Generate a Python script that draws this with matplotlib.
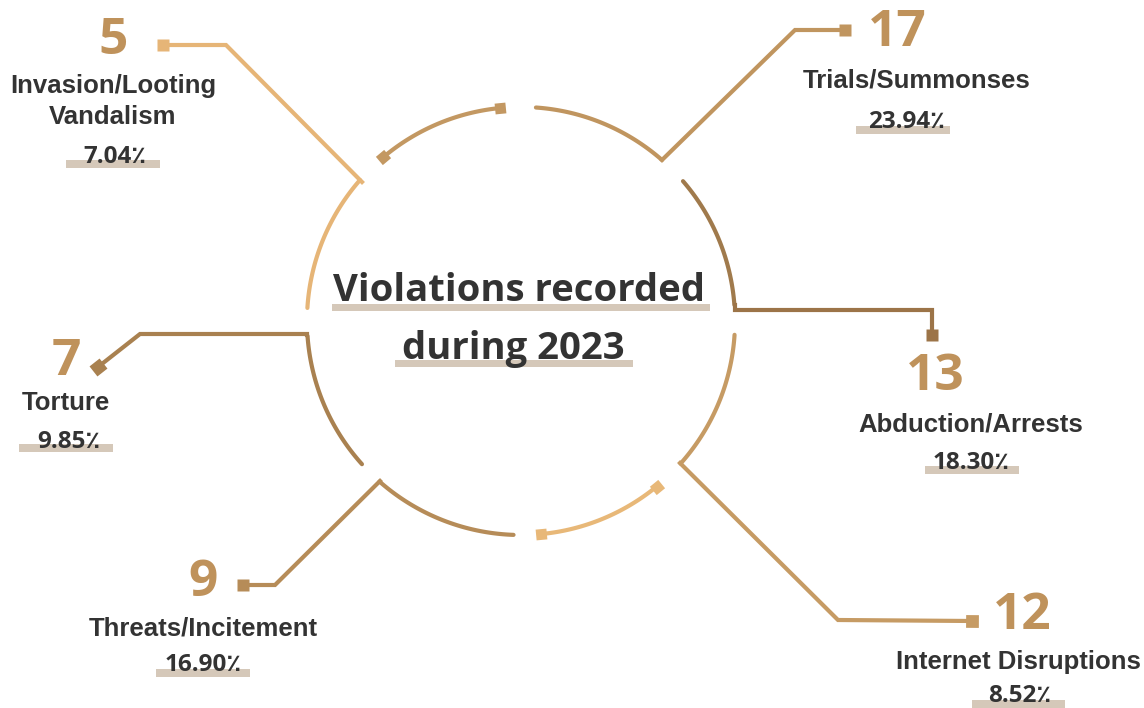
import numpy as np
import matplotlib
matplotlib.use("Agg")
import matplotlib.pyplot as plt
from matplotlib.patches import Rectangle

# ---- data (read from the infographic) ----
categories = ["Invasion/Looting\nVandalism", "Trials/Summonses", "Abduction/Arrests",
              "Internet Disruptions", "Threats/Incitement", "Torture"]
counts = [5, 17, 13, 12, 9, 7]
shares = [7.04, 23.94, 18.30, 8.52, 16.90, 9.85]
title = "Violations recorded\nduring 2023"

# ---- layout (pixel space, y down) ----
W, H = 1144, 708
CX, CY, R = 521, 321, 214
num_xy = [(113, 41), (897, 33), (935, 377), (1022, 616), (203, 583), (66, 362)]
lab_xy = [(113, 86), (917, 80), (971, 425), (1018, 662), (203, 629), (66, 403)]
pct_xy = [(115, 157), (906, 122), (971, 463), (1020, 696), (203, 665), (69, 442)]
bar_x = [(66, 160), (856, 950), (925, 1019), (972, 1065), (156, 250), (19, 113)]
bar_y = [160, 126, 466, 700, 669, 444]

NUM_C = "#bf925b"
TXT_C = "#333333"
BAR_C = "#d5c8b9"

# arc segments: (start deg, end deg, colour)
arcs = [
    (86, 48.8, "#c0955f"),     # top right -> Trials
    (40.8, 4.3, "#a07a4c"),    # right -> Abduction
    (-3.7, -41.8, "#c69b64"),  # right lower -> Internet
    (-92, -131.4, "#b68c58"),  # bottom -> Threats
    (-138, -176, "#a98150"),   # left lower -> Torture
    (176.5, 138.8, "#e6b577"), # left upper -> Invasion
]
arrow_arcs = [(95.7, 130, "#c39862"), (-50.7, -84.6, "#e8b878")]

connectors = [
    ([662, 795, 845], [160, 30, 30], "#c0955f", (845, 30)),
    ([735, 735, 932, 932], [305, 310, 310, 335], "#9c7448", (932, 335)),
    ([680, 838, 972], [463, 620, 621], "#c69b64", (972, 621)),
    ([380, 275, 243], [481, 585, 585], "#b68c58", (243, 585)),
    ([307, 307, 140, 98], [335, 334, 334, 367], "#a98150", (98, 367)),
    ([362, 226, 163], [182, 45, 45], "#e6b577", (163, 45)),
]

fig = plt.figure(figsize=(W / 100, H / 100), dpi=100)
ax = fig.add_axes([0, 0, 1, 1])
ax.set_xlim(0, W)
ax.set_ylim(H, 0)
ax.axis("off")


def arc_pts(a0, a1):
    t = np.radians(np.linspace(a0, a1, 80))
    return CX + R * np.cos(t), CY - R * np.sin(t)


for a0, a1, c in arcs:
    x, y = arc_pts(a0, a1)
    ax.plot(x, y, color=c, lw=3, solid_capstyle="round")

for a0, a1, c in arrow_arcs:
    x, y = arc_pts(a0, a1)
    ax.plot(x, y, color=c, lw=3)
    for a in (a0, a1):
        px, py = CX + R * np.cos(np.radians(a)), CY - R * np.sin(np.radians(a))
        ax.plot(px, py, marker=(4, 0, a + 45), ms=11, color=c, mec="none")

for xs, ys, c, (mx, my) in connectors:
    ax.plot(xs, ys, color=c, lw=3, solid_joinstyle="miter")
    dx, dy = xs[-1] - xs[-2], ys[-1] - ys[-2]
    ang = np.degrees(np.arctan2(-dy, dx))
    ax.plot(mx, my, marker=(4, 0, ang + 45), ms=13, color=c, mec="none")

# ---- text ----
for i in range(len(categories)):
    ax.text(*num_xy[i], str(counts[i]), ha="center", va="center", fontsize=37,
            fontweight="bold", color=NUM_C, family="Open Sans")
    for j, line in enumerate(categories[i].split("\n")):
        ax.text(lab_xy[i][0], lab_xy[i][1] + 31 * j, line, ha="center", va="center",
                fontsize=18.5, fontweight="bold", color=TXT_C,
                family="Liberation Sans")
    x0, x1 = bar_x[i]
    ax.add_patch(Rectangle((x0, bar_y[i]), x1 - x0, 8, color=BAR_C, lw=0, zorder=1))
    ax.text(*pct_xy[i], f"{shares[i]:.2f}\u066a", ha="center", va="center",
            fontsize=17.5, fontweight="bold", color=TXT_C,
            family=["Open Sans", "DejaVu Sans"], zorder=2)

# title with underline bars
ax.add_patch(Rectangle((332, 304), 378, 7, color=BAR_C, lw=0, zorder=1))
ax.add_patch(Rectangle((395, 360), 238, 7, color=BAR_C, lw=0, zorder=1))
t1, t2 = title.split("\n")
ax.text(519, 291, t1, ha="center", va="center", fontsize=27.5, fontweight="bold",
        color=TXT_C, family="Open Sans", zorder=2)
ax.text(513, 349, t2, ha="center", va="center", fontsize=27.5, fontweight="bold",
        color=TXT_C, family="Open Sans", zorder=2)

fig.savefig("out.png", dpi=100)
